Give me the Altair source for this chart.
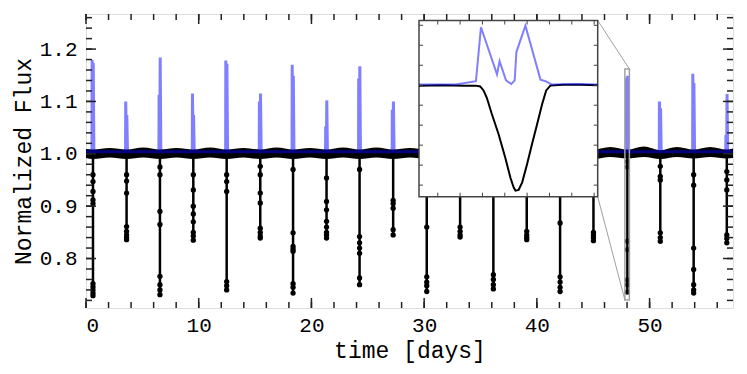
import altair as alt
import pandas as pd

# ---------------- data ----------------
# eclipse (dip) centre times [days]
ecl_t = [0.62, 3.60, 6.56, 9.52, 12.48, 15.46, 18.37, 21.34, 24.27, 27.25,
         30.23, 33.19, 36.14, 39.10, 42.06, 45.02, 48.03, 50.95, 53.91, 56.85]
# minimum normalized flux of each dip
ecl_min = [0.729, 0.836, 0.731, 0.835, 0.740, 0.839, 0.734, 0.839, 0.750, 0.845,
           0.737, 0.841, 0.742, 0.836, 0.737, 0.834, 0.736, 0.833, 0.734, 0.830]
# visible points along each dip
dip_pts = [
    [0.96, 0.947, 0.928, 0.912, 0.905, 0.752, 0.746, 0.74, 0.734, 0.729],
    [0.96, 0.948, 0.925, 0.861, 0.852, 0.845, 0.84, 0.836],
    [0.975, 0.96, 0.89, 0.865, 0.766, 0.75, 0.74, 0.731],
    [0.96, 0.931, 0.90, 0.885, 0.87, 0.85, 0.843, 0.835],
    [0.96, 0.947, 0.928, 0.756, 0.748, 0.74],
    [0.976, 0.96, 0.925, 0.906, 0.858, 0.85, 0.843, 0.839],
    [0.97, 0.849, 0.823, 0.818, 0.814, 0.752, 0.745, 0.734],
    [0.954, 0.909, 0.893, 0.871, 0.86, 0.85, 0.845, 0.839],
    [0.97, 0.842, 0.83, 0.82, 0.81, 0.763, 0.75],
    [0.911, 0.905, 0.896, 0.855, 0.845],
    [0.86, 0.765, 0.755, 0.748, 0.737],
    [0.86, 0.852, 0.845, 0.841],
    [0.769, 0.76, 0.75, 0.742],
    [0.852, 0.845, 0.84, 0.836],
    [0.868, 0.765, 0.755, 0.745, 0.737],
    [0.85, 0.845, 0.84, 0.834],
    [0.985, 0.975, 0.833, 0.817, 0.759, 0.75, 0.736],
    [0.976, 0.957, 0.95, 0.849, 0.84, 0.833],
    [0.96, 0.94, 0.82, 0.779, 0.75, 0.74, 0.734],
    [0.966, 0.95, 0.931, 0.845, 0.838, 0.83],
]
# blue curve: two peaks at every eclipse
blue_pa = [1.179, 1.100, 1.113, 1.115, 1.178, 1.100, 1.170, 1.052, 1.144, 1.084,
           1.160, 1.095, 1.150, 1.100, 1.165, 1.090, 1.145, 1.100, 1.153, 1.036]
blue_pb = [1.174, 1.074, 1.184, 1.074, 1.172, 1.115, 1.149, 1.102, 1.167, 1.100,
           1.150, 1.085, 1.160, 1.092, 1.150, 1.100, 1.149, 1.087, 1.135, 1.114]
# spike vertex offsets from eclipse centre (days) and in-between levels
spike_off = [-0.09, -0.077, -0.01, 0.022, 0.08]
spike_base = 1.004
spike_mid = 1.014

# out-of-eclipse black band (upper / lower envelope)
band_t = [0.0, 0.62, 2.10, 3.60, 5.08, 6.56, 8.04, 9.52, 11.0, 12.48, 13.97,
          15.46, 16.92, 18.37, 19.85, 21.34, 22.80, 24.27, 25.76, 27.25, 28.74,
          30.23, 31.71, 33.19, 34.67, 36.14, 37.62, 39.10, 40.58, 42.06, 43.54,
          45.02, 46.52, 48.03, 49.49, 50.95, 52.43, 53.91, 55.38, 56.85, 57.4]
band_hi = [1.009, 1.008, 1.011, 1.008, 1.012, 1.008, 1.011, 1.008, 1.012, 1.008, 1.011,
           1.008, 1.012, 1.008, 1.011, 1.008, 1.012, 1.008, 1.012, 1.008, 1.011,
           1.008, 1.012, 1.008, 1.012, 1.008, 1.012, 1.008, 1.011, 1.008, 1.012,
           1.008, 1.013, 1.008, 1.014, 1.007, 1.013, 1.008, 1.013, 1.008, 1.010]
band_lo = [0.992, 0.990, 0.993, 0.990, 0.993, 0.990, 0.993, 0.990, 0.993, 0.990, 0.993,
           0.990, 0.993, 0.990, 0.993, 0.990, 0.993, 0.990, 0.993, 0.990, 0.993,
           0.990, 0.993, 0.990, 0.993, 0.990, 0.993, 0.990, 0.993, 0.990, 0.993,
           0.990, 0.994, 0.991, 0.994, 0.990, 0.994, 0.991, 0.994, 0.991, 0.992]

# inset (zoom on the eclipse near 48 d)
inset_x_dom = [47.808, 48.208]
inset_y_dom = [0.721, 1.162]
ins_black_t = [47.808, 47.86, 47.91, 47.935, 47.945, 47.9525, 47.960, 47.971, 47.986,
               48.001, 48.0125, 48.020, 48.024, 48.031, 48.039, 48.050, 48.061,
               48.0725, 48.0837, 48.0927, 48.102, 48.13, 48.17, 48.208]
ins_black_f = [0.999, 1.000, 0.999, 0.999, 0.997, 0.987, 0.968, 0.928, 0.878,
               0.819, 0.769, 0.744, 0.736, 0.738, 0.757, 0.803, 0.853, 0.903,
               0.953, 0.987, 0.999, 1.001, 1.001, 1.000]
ins_blue_t = [47.808, 47.89, 47.9354, 47.9467, 47.9826, 47.9884, 48.0028, 48.0147,
              48.0222, 48.026, 48.0462, 48.0799, 48.0911, 48.1046, 48.16, 48.208]
ins_blue_f = [1.002, 1.002, 1.010, 1.145, 1.027, 1.060, 1.012, 1.003, 1.012,
              1.083, 1.149, 1.014, 1.010, 1.002, 1.003, 1.002]

# ticks
x_major = [0, 10, 20, 30, 40, 50]
x_minor = [0, 2, 4, 6, 8, 10, 12, 14, 16, 18, 20, 22, 24, 26, 28, 30, 32, 34, 36,
           38, 40, 42, 44, 46, 48, 50, 52, 54, 56]
y_major = [0.8, 0.9, 1.0, 1.1, 1.2]
y_minor = [0.72, 0.74, 0.76, 0.78, 0.80, 0.82, 0.84, 0.86, 0.88, 0.90, 0.92, 0.94,
           0.96, 0.98, 1.00, 1.02, 1.04, 1.06, 1.08, 1.10, 1.12, 1.14, 1.16, 1.18,
           1.20, 1.22, 1.24, 1.26]
ins_xticks = [47.85, 47.90, 47.95, 48.00, 48.05, 48.10, 48.15, 48.20]
ins_yticks = [0.75, 0.80, 0.85, 0.90, 0.95, 1.00, 1.05, 1.10, 1.15]

# ---------------- layout / style ----------------
W, H = 647, 294
FONT = "Liberation Mono"
INK = "#222222"
BLUE = "#0000ff"
INSET_L, INSET_R, INSET_T, INSET_B = 333, 511.7, 6.5, 182.7

xs = alt.Scale(domain=[0, 57.4], nice=False, zero=False)
ys = alt.Scale(domain=[0.7055, 1.267], nice=False, zero=False)
x_axis = alt.Axis(title="time [days]", values=x_major, ticks=False, domain=False,
                  grid=False, labelFont=FONT, labelFontSize=21, labelPadding=6,
                  titleFont=FONT, titleFontSize=23, titleFontWeight="normal",
                  titlePadding=4, labelColor="black", titleColor="black",
                  orient="bottom")
y_axis = alt.Axis(title="Normalized Flux", values=y_major, format=".1f", ticks=False,
                  domain=False, grid=False, labelFont=FONT, labelFontSize=21,
                  labelPadding=9, titleFont=FONT, titleFontSize=23,
                  titleFontWeight="normal", titlePadding=4, labelColor="black",
                  titleColor="black", orient="left")

# ---------------- tables ----------------
band_df = pd.DataFrame({"t": band_t, "hi": band_hi, "lo": band_lo})
dip_df = pd.DataFrame({"t": ecl_t, "top": [1.0] * len(ecl_t), "fmin": ecl_min})
dots_rows = []
for t, pts in zip(ecl_t, dip_pts):
    for f in pts:
        dots_rows.append({"t": t, "f": f})
dots_df = pd.DataFrame(dots_rows)

blue_rows = [{"t": 0.0, "f": spike_base}]
for t, pa, pb in zip(ecl_t, blue_pa, blue_pb):
    vals = [spike_base, pa, spike_mid, pb, spike_base]
    for o, v in zip(spike_off, vals):
        blue_rows.append({"t": t + o, "f": v})
blue_rows.append({"t": 57.4, "f": spike_base})
blue_df = pd.DataFrame(blue_rows)
blue_df["i"] = range(len(blue_df))

rect_df = pd.DataFrame({"x0": [inset_x_dom[0]], "x1": [inset_x_dom[1]],
                        "y0": [inset_y_dom[0]], "y1": [inset_y_dom[1]]})

# ---------------- main panel ----------------
band = alt.Chart(band_df).mark_area(color="black", interpolate="monotone").encode(
    x=alt.X("t:Q", scale=xs, axis=x_axis),
    y=alt.Y("lo:Q", scale=ys, axis=y_axis),
    y2="hi:Q",
)
dips = alt.Chart(dip_df).mark_rule(color="black", strokeWidth=2.5).encode(
    x=alt.X("t:Q", scale=xs, axis=None),
    y=alt.Y("top:Q", scale=ys, axis=None),
    y2="fmin:Q",
)
dots = alt.Chart(dots_df).mark_circle(color="black", size=28, opacity=1).encode(
    x=alt.X("t:Q", scale=xs, axis=None),
    y=alt.Y("f:Q", scale=ys, axis=None),
)
blue = alt.Chart(blue_df).mark_line(color=BLUE, opacity=0.5, strokeWidth=3).encode(
    x=alt.X("t:Q", scale=xs, axis=None),
    y=alt.Y("f:Q", scale=ys, axis=None),
    order="i:Q",
)
zoom_rect = alt.Chart(rect_df).mark_rect(fillOpacity=0, stroke="#a0a0a0",
                                          strokeWidth=1.5).encode(
    x=alt.X("x0:Q", scale=xs, axis=None), x2="x1:Q",
    y=alt.Y("y0:Q", scale=ys, axis=None), y2="y1:Q",
)
conn1 = alt.Chart(rect_df).mark_rule(color="#a0a0a0", strokeWidth=1).encode(
    x=alt.X("x1:Q", scale=xs, axis=None), y=alt.Y("y1:Q", scale=ys, axis=None),
    x2=alt.value(INSET_R), y2=alt.value(INSET_T),
)
conn2 = alt.Chart(rect_df).mark_rule(color="#a0a0a0", strokeWidth=1).encode(
    x=alt.X("x0:Q", scale=xs, axis=None), y=alt.Y("y0:Q", scale=ys, axis=None),
    x2=alt.value(INSET_R), y2=alt.value(INSET_B),
)


def xticks(vals, length):
    d = pd.DataFrame({"v": vals})
    b = alt.Chart(d).mark_rule(color=INK, strokeWidth=1.5).encode(
        x=alt.X("v:Q", scale=xs, axis=None), y=alt.value(H), y2=alt.value(H - length))
    t = alt.Chart(d).mark_rule(color=INK, strokeWidth=1.5).encode(
        x=alt.X("v:Q", scale=xs, axis=None), y=alt.value(0), y2=alt.value(length))
    return [b, t]


def yticks(vals, length):
    d = pd.DataFrame({"v": vals})
    l = alt.Chart(d).mark_rule(color=INK, strokeWidth=1.5).encode(
        y=alt.Y("v:Q", scale=ys, axis=None), x=alt.value(0), x2=alt.value(length))
    r = alt.Chart(d).mark_rule(color=INK, strokeWidth=1.5).encode(
        y=alt.Y("v:Q", scale=ys, axis=None), x=alt.value(W), x2=alt.value(W - length))
    return [l, r]


main_layers = [band, dips, dots, blue, zoom_rect, conn1, conn2,
               *xticks(x_major, 10), *xticks(x_minor, 6),
               *yticks(y_major, 10), *yticks(y_minor, 6)]

# ---------------- inset panel ----------------
ixs = alt.Scale(domain=inset_x_dom, range=[INSET_L, INSET_R], nice=False, zero=False)
iys = alt.Scale(domain=inset_y_dom, range=[INSET_B, INSET_T], nice=False, zero=False)

frame = alt.Chart(pd.DataFrame({"a": [0]})).mark_rect(
    fill="white", stroke="#444444", strokeWidth=1.5).encode(
    x=alt.value(INSET_L), x2=alt.value(INSET_R),
    y=alt.value(INSET_T), y2=alt.value(INSET_B))
ins_black = alt.Chart(pd.DataFrame({"t": ins_black_t, "f": ins_black_f})).mark_line(
    color="black", strokeWidth=2).encode(
    x=alt.X("t:Q", scale=ixs, axis=None), y=alt.Y("f:Q", scale=iys, axis=None))
ins_blue = alt.Chart(pd.DataFrame({"t": ins_blue_t, "f": ins_blue_f})).mark_line(
    color=BLUE, opacity=0.5, strokeWidth=2).encode(
    x=alt.X("t:Q", scale=ixs, axis=None), y=alt.Y("f:Q", scale=iys, axis=None))

ixd = pd.DataFrame({"v": ins_xticks})
iyd = pd.DataFrame({"v": ins_yticks})
TL = 4
ins_ticks = [
    alt.Chart(ixd).mark_rule(color="#444444", strokeWidth=1).encode(
        x=alt.X("v:Q", scale=ixs, axis=None), y=alt.value(INSET_B), y2=alt.value(INSET_B - TL)),
    alt.Chart(ixd).mark_rule(color="#444444", strokeWidth=1).encode(
        x=alt.X("v:Q", scale=ixs, axis=None), y=alt.value(INSET_T), y2=alt.value(INSET_T + TL)),
    alt.Chart(iyd).mark_rule(color="#444444", strokeWidth=1).encode(
        y=alt.Y("v:Q", scale=iys, axis=None), x=alt.value(INSET_L), x2=alt.value(INSET_L + TL)),
    alt.Chart(iyd).mark_rule(color="#444444", strokeWidth=1).encode(
        y=alt.Y("v:Q", scale=iys, axis=None), x=alt.value(INSET_R), x2=alt.value(INSET_R - TL)),
]

inset_layers = [frame, ins_black, ins_blue, *ins_ticks]

chart = alt.layer(*main_layers, *inset_layers).resolve_scale(
    x="independent", y="independent"
).properties(
    width=W, height=H,
    padding={"left": 78, "top": 6, "right": 6, "bottom": 60},
    autosize=alt.AutoSizeParams(type="none"),
).configure_view(stroke=INK, strokeWidth=2).configure(background="white")

chart.save("out.html", embed_options={"renderer": "svg", "actions": False})
